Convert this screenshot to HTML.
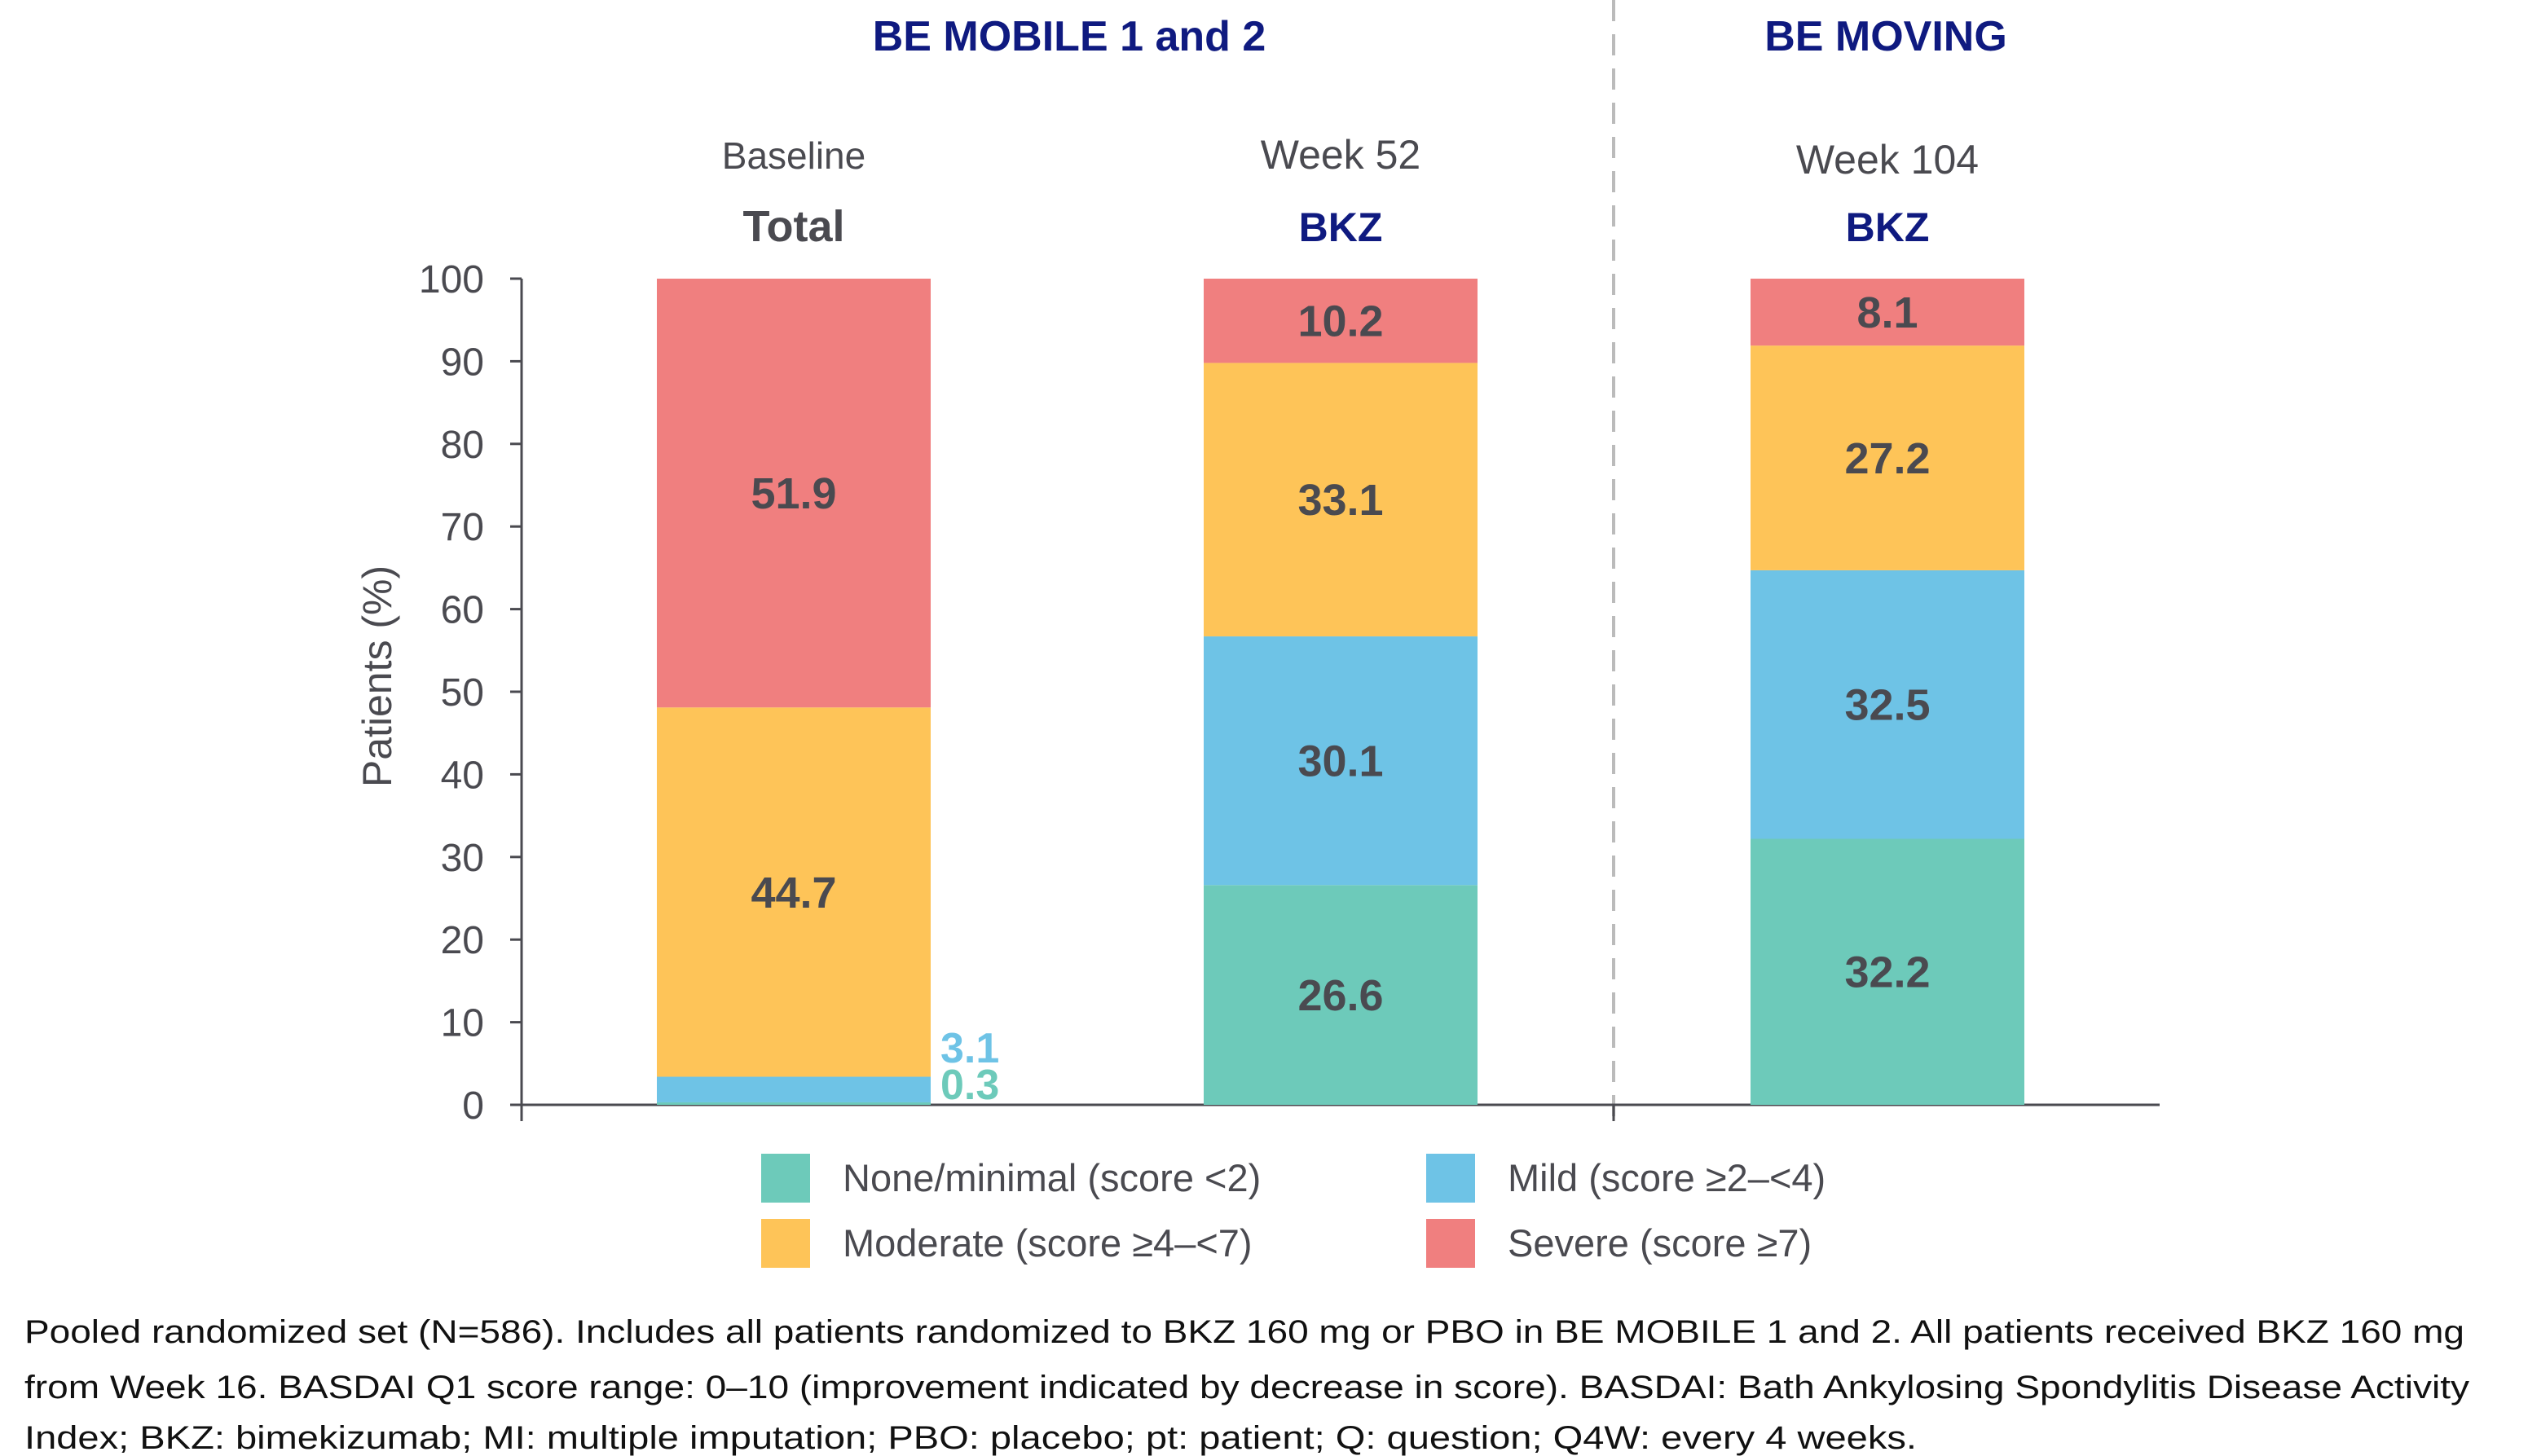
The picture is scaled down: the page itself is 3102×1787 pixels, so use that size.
<!DOCTYPE html>
<html><head><meta charset="utf-8"><style>
html,body{margin:0;padding:0;background:#fff;}
svg{display:block;font-family:"Liberation Sans",sans-serif;}
</style></head><body>
<svg id="chart" width="3102" height="1787" viewBox="0 0 3102 1787">
<g id="static">
<text x="1312" y="62" text-anchor="middle" font-size="52" font-weight="bold" fill="#0F1A80">BE MOBILE 1 and 2</text>
<text x="2314" y="62" text-anchor="middle" font-size="52" font-weight="bold" fill="#0F1A80">BE MOVING</text>
<line x1="1980" y1="0" x2="1980" y2="1380" stroke="#bbb" stroke-width="4" stroke-dasharray="26,16"/>
<text transform="translate(480,830) rotate(-90)" text-anchor="middle" font-size="50" fill="#4a4a50">Patients (%)</text>
<line x1="640" y1="342" x2="640" y2="1376" stroke="#4a4a50" stroke-width="3"/>
<line x1="626" y1="1356" x2="2650" y2="1356" stroke="#4a4a50" stroke-width="3"/>
<line x1="1980" y1="1356" x2="1980" y2="1376" stroke="#4a4a50" stroke-width="3"/>
</g>
<g id="ticks"></g>
<g id="bars"></g>
<g id="legend">
<rect x="934" y="1416" width="60" height="60" fill="#6DCABA"/>
<text x="1034" y="1462" font-size="47" fill="#4a4a50">None/minimal (score &lt;2)</text>
<rect x="1750" y="1416" width="60" height="60" fill="#6EC3E6"/>
<text x="1850" y="1462" font-size="47" fill="#4a4a50">Mild (score ≥2–&lt;4)</text>
<rect x="934" y="1496" width="60" height="60" fill="#FEC458"/>
<text x="1034" y="1542" font-size="47" fill="#4a4a50">Moderate (score ≥4–&lt;7)</text>
<rect x="1750" y="1496" width="60" height="60" fill="#F07F7F"/>
<text x="1850" y="1542" font-size="47" fill="#4a4a50">Severe (score ≥7)</text>
</g>
<g font-size="40" fill="#111">
<text x="30" y="1648" textLength="2994" lengthAdjust="spacingAndGlyphs">Pooled randomized set (N=586). Includes all patients randomized to BKZ 160 mg or PBO in BE MOBILE 1 and 2. All patients received BKZ 160 mg</text>
<text x="30" y="1716" textLength="3000" lengthAdjust="spacingAndGlyphs">from Week 16. BASDAI Q1 score range: 0–10 (improvement indicated by decrease in score). BASDAI: Bath Ankylosing Spondylitis Disease Activity</text>
<text x="30" y="1778" textLength="2322" lengthAdjust="spacingAndGlyphs">Index; BKZ: bimekizumab; MI: multiple imputation; PBO: placebo; pt: patient; Q: question; Q4W: every 4 weeks.</text>
</g>
</svg>
<script>
const categories = ["Baseline", "Week 52", "Week 104"];
const subLabels = ["Total", "BKZ", "BKZ"];
const noneVals = [0.3, 26.6, 32.2];
const mildVals = [3.1, 30.1, 32.5];
const moderateVals = [44.7, 33.1, 27.2];
const severeVals = [51.9, 10.2, 8.1];
const yTicks = [0, 10, 20, 30, 40, 50, 60, 70, 80, 90, 100];

const NS = "http://www.w3.org/2000/svg";
const y0 = 1356, y100 = 342;
function yScale(v){ return y0 - (v/100)*(y0-y100); }
const barW = 336;
function xCenter(i){ return 974 + i*671; }
function mk(tag, attrs, parent){
  const e = document.createElementNS(NS, tag);
  for (const k in attrs) e.setAttribute(k, attrs[k]);
  parent.appendChild(e); return e;
}
const ticksG = document.getElementById('ticks');
yTicks.forEach(t => {
  const y = yScale(t);
  const l = mk('line', {x1:626, y1:y, x2:640, y2:y, stroke:'#4a4a50', 'stroke-width':3}, ticksG);
  
  
  const tx = mk('text', {x:594, y:y+17, 'text-anchor':'end', 'font-size':48, fill:'#4a4a50'}, ticksG);
  tx.textContent = t;
  
  
});
const barsG = document.getElementById('bars');
const series = [
  {vals:noneVals, color:'#6DCABA', name:'none'},
  {vals:mildVals, color:'#6EC3E6', name:'mild'},
  {vals:moderateVals, color:'#FEC458', name:'moderate'},
  {vals:severeVals, color:'#F07F7F', name:'severe'}
];
categories.forEach((c, i) => {
  const cx = xCenter(i);
  const ct = mk('text', {x:cx, y:i===2?213:207, 'text-anchor':'middle', 'font-size':i===0?46:50, fill:'#4a4a50'}, barsG);
  ct.textContent = c;
  
  
  const st = mk('text', {x:cx, y:296, 'text-anchor':'middle', 'font-size':i===0?54:50, 'font-weight':'bold', fill:i===0?'#4a4a50':'#0F1A80'}, barsG);
  st.textContent = subLabels[i];
  
  
  let cum = 0;
  series.forEach((s, si) => {
    const v = s.vals[i];
    const yt = yScale(cum + v), yb = yScale(cum);
    const r = mk('rect', {x:cx-barW/2, y:yt, width:barW, height:Math.max(0, yb-yt), fill:s.color}, barsG);
    
    
    if (v >= 5) {
      const lt = mk('text', {x:cx, y:(yt+yb)/2+19, 'text-anchor':'middle', 'font-size':54, 'font-weight':'bold', fill:'#4a4a50'}, barsG);
      lt.textContent = v.toFixed(1);
      
      
    }
    cum += v;
  });
  if (noneVals[i] < 5) {
    const a = mk('text', {x:cx+barW/2+12, y:1349, 'font-size':52, 'font-weight':'bold', fill:'#6DCABA'}, barsG);
    a.textContent = noneVals[i].toFixed(1);
    
    
    const b = mk('text', {x:cx+barW/2+12, y:1304, 'font-size':52, 'font-weight':'bold', fill:'#6EC3E6'}, barsG);
    b.textContent = mildVals[i].toFixed(1);
    
    
  }
});
</script>
</body></html>
